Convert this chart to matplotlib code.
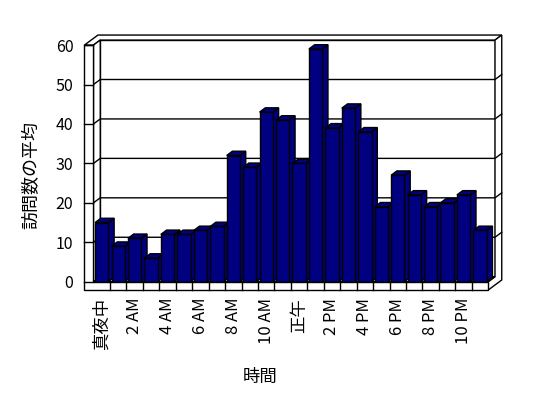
import matplotlib
matplotlib.use('Agg')
import matplotlib.pyplot as plt
from matplotlib.patches import Polygon

plt.rcParams['font.family'] = ['Noto Sans CJK JP', 'DejaVu Sans']

# 時間帯ごとの訪問数の平均 (0時〜23時)
hours = list(range(24))
visits = [15, 9, 11, 6, 12, 12, 13, 14, 32, 29, 43, 41,
          30, 59, 39, 44, 38, 19, 27, 22, 19, 20, 22, 13]
tick_hours = list(range(0, 24, 2))
tick_labels = ['真夜中', '2 AM', '4 AM', '6 AM', '8 AM', '10 AM',
               '正午', '2 PM', '4 PM', '6 PM', '8 PM', '10 PM']
yticks = list(range(0, 70, 10))

navy = '#000080'
lw = 1.0

# 3D風の奥行き (データ単位)
wdx, wdy = 0.41, 1.27     # 壁
bdx, bdy = 0.35, 1.09     # 棒
bar_w = 0.81
wall_t = 0.55             # 左の壁の厚さ
floor_t = 2.1             # 床の厚さ
ymax = yticks[-1]
x0, x1 = -0.5, len(hours) - 0.5

fig = plt.figure(figsize=(5.48, 3.98), dpi=100)
ax = fig.add_axes([0.1496, 0.2674, 0.7714, 0.6491])
ax.set_xlim(-1.2, 24.5)
ax.set_ylim(-2.5, 63)


def face(pts, z, fc='white'):
    ax.add_patch(Polygon(pts, closed=True, facecolor=fc, edgecolor='black',
                         lw=lw, zorder=z, joinstyle='miter'))


# 奥の壁・床・左の壁の内側
face([(x0 + wdx, wdy), (x1 + wdx, wdy), (x1 + wdx, ymax + wdy), (x0 + wdx, ymax + wdy)], 1)
face([(x0 - wall_t, ymax), (x0 - wall_t + 2 * wdx, ymax + 2 * wdy),
      (x1 + 2 * wdx, ymax + 2 * wdy), (x1 + wdx, ymax + wdy),
      (x0 + wdx, ymax + wdy), (x0, ymax)], 1)
face([(x1, -floor_t), (x1 + 2 * wdx, -floor_t + 2 * wdy), (x1 + 2 * wdx, ymax + 2 * wdy),
      (x1 + wdx, ymax + wdy), (x1 + wdx, wdy), (x1, 0)], 1)
face([(x0, 0), (x0 + wdx, wdy), (x0 + wdx, ymax + wdy), (x0, ymax)], 1)
face([(x0, 0), (x1, 0), (x1 + wdx, wdy), (x0 + wdx, wdy)], 1)

# 目盛線
for v in yticks[1:-1]:
    ax.plot([x0, x0 + wdx, x1 + wdx, x1 + 2 * wdx], [v, v + wdy, v + wdy, v + 2 * wdy],
            color='black', lw=lw, zorder=1.5)

# 棒
bars = ax.bar(hours, visits, width=bar_w, color=navy, edgecolor='black', lw=lw)
for i, (x, v) in enumerate(zip(hours, visits)):
    z = 3 + i * 0.01
    l, r = x - bar_w / 2, x + bar_w / 2
    face([(r, 0), (r + bdx, bdy), (r + bdx, v + bdy), (r, v)], z, navy)
    face([(l, v), (l + bdx, v + bdy), (r + bdx, v + bdy), (r, v)], z, navy)
    bars[i].set_zorder(z + 0.005)

# 手前の壁と床
face([(x0 - wall_t, -floor_t), (x1, -floor_t), (x1, 0), (x0, 0),
      (x0, ymax), (x0 - wall_t, ymax)], 5)
for v in yticks:
    ax.plot([x0 - wall_t, x0], [v, v], color='black', lw=lw, zorder=6)
for x in hours[:-1]:
    ax.plot([x + 0.5, x + 0.5], [-floor_t, 0], color='black', lw=lw, zorder=6)

for s in ax.spines.values():
    s.set_visible(False)
ax.set_yticks(yticks)
ax.set_xticks(tick_hours, tick_labels, rotation=90, va='top')
ax.tick_params(axis='both', length=0)
ax.tick_params(axis='x', pad=4.6, labelsize=12)
ax.tick_params(axis='y', pad=6.2, labelsize=11.5)
for t in ax.get_xticklabels():
    if t.get_text() in ('真夜中', '正午'):
        t.set_fontsize(12.5)

fig.text(31 / 548, 1 - 174.7 / 398, '訪問数の平均', rotation=90,
         ha='center', va='center', fontsize=13)
fig.text(260 / 548, 1 - 376.7 / 398, '時間', ha='center', va='center', fontsize=12.5)

fig.savefig('out.png', dpi=100)
